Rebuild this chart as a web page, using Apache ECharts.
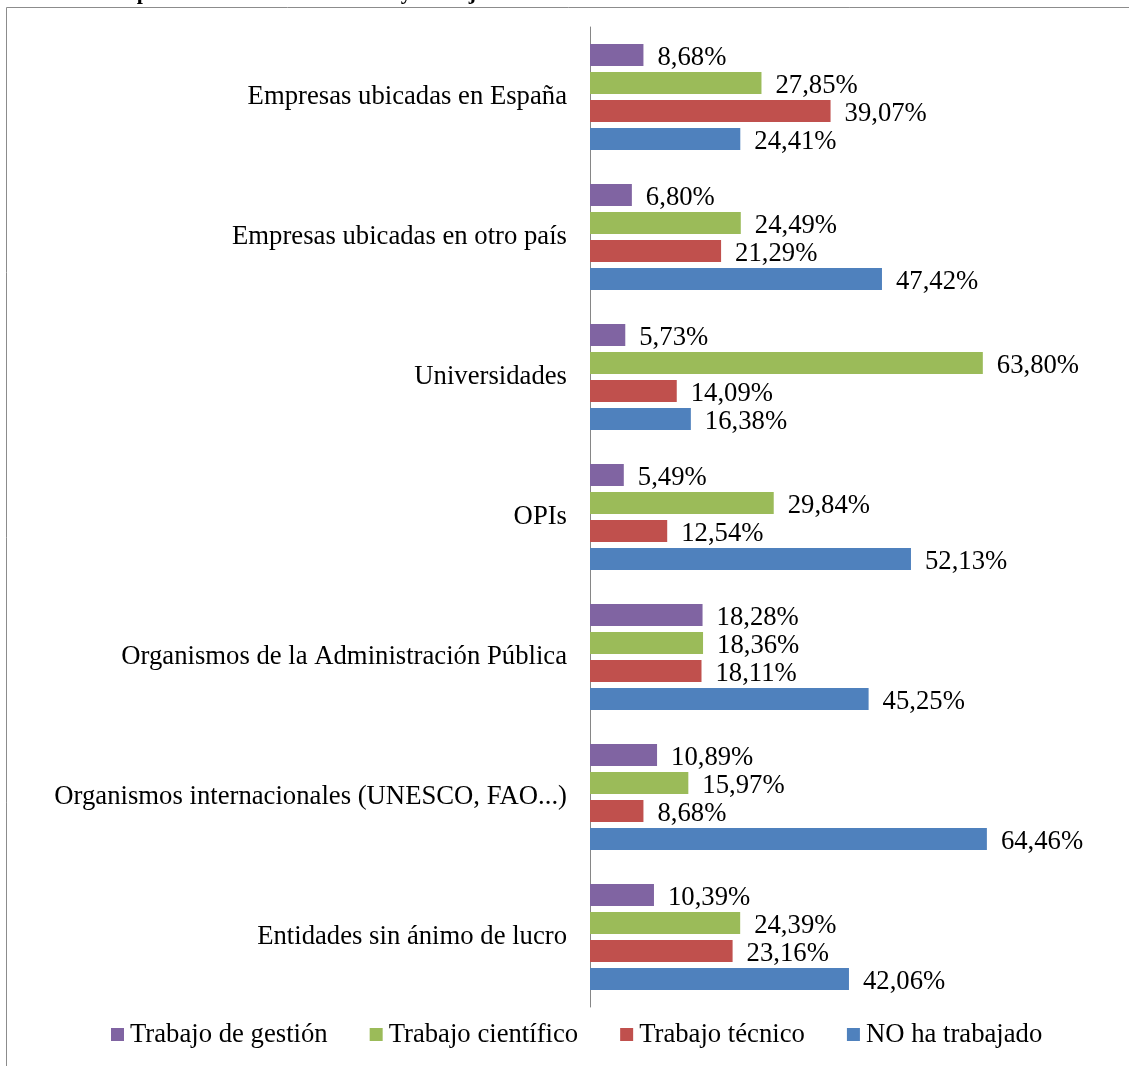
<!DOCTYPE html>
<html>
<head>
<meta charset="utf-8">
<script src="https://cdn.jsdelivr.net/npm/echarts@6/dist/echarts.min.js"></script>
<style>
  html, body { margin: 0; padding: 0; background: #fff; }
  #chart { width: 1129px; height: 1066px; }
</style>
</head>
<body>
<div id="chart"></div>
<script>
const categories = [
  "Empresas ubicadas en España",
  "Empresas ubicadas en otro país",
  "Universidades",
  "OPIs",
  "Organismos de la Administración Pública",
  "Organismos internacionales (UNESCO, FAO...)",
  "Entidades sin ánimo de lucro"
];
const seriesNames = ["Trabajo de gestión", "Trabajo científico", "Trabajo técnico", "NO ha trabajado"];
const gestion    = [8.68, 6.80, 5.73, 5.49, 18.28, 10.89, 10.39];
const cientifico = [27.85, 24.49, 63.80, 29.84, 18.36, 15.97, 24.39];
const tecnico    = [39.07, 21.29, 14.09, 12.54, 18.11, 8.68, 23.16];
const noTrabajo  = [24.41, 47.42, 16.38, 52.13, 45.25, 64.46, 42.06];
const colors = ["#8064A2", "#9BBB59", "#C0504D", "#4F81BD"];

const FONT = "'Liberation Serif', 'Times New Roman', serif";
const FS = 26.7;

const chart = echarts.init(document.getElementById("chart"));

function makeSeries(name, data, color) {
  return {
    name: name,
    type: "bar",
    data: data,
    barWidth: 22,
    barGap: "27%",
    itemStyle: { color: color },
    label: {
      show: true,
      position: "right",
      distance: 14,
      offset: [0, 3],
      fontFamily: FONT,
      fontSize: FS,
      color: "#000",
      formatter: p => p.value.toFixed(2).replace(".", ",") + "%"
    }
  };
}

chart.setOption({
  animation: false,
  color: colors,
  textStyle: { fontFamily: FONT },
  graphic: [
    {
      type: "rect",
      shape: { x: 6.5, y: 7.5, width: 1300, height: 1300 },
      style: { fill: "none", stroke: "#8c8c8c", lineWidth: 1 }
    },
    {
      type: "text",
      x: 4,
      y: -7,
      style: {
        text: "Gráfico 14: Tipo de entidad colaboradora y trabajo de colaboración",
        font: "bold 22px " + FONT,
        fill: "#000",
        verticalAlign: "middle"
      }
    }
  ],
  grid: { left: 590, top: 27, width: 431, height: 980 },
  legend: {
    data: seriesNames,
    top: 1016,
    left: 106,
    icon: "rect",
    itemWidth: 13,
    itemHeight: 13,
    itemGap: 42,
    textStyle: { fontFamily: FONT, fontSize: FS, color: "#000", padding: [0, 0, 0, 1] }
  },
  xAxis: {
    type: "value",
    min: 0,
    max: 70,
    show: false,
    splitLine: { show: false }
  },
  yAxis: {
    type: "category",
    data: categories,
    inverse: true,
    axisLine: { lineStyle: { color: "#868686", width: 1 } },
    axisTick: { show: false },
    axisLabel: { fontFamily: FONT, fontSize: FS, color: "#000", margin: 23 }
  },
  series: [
    makeSeries(seriesNames[0], gestion, colors[0]),
    makeSeries(seriesNames[1], cientifico, colors[1]),
    makeSeries(seriesNames[2], tecnico, colors[2]),
    makeSeries(seriesNames[3], noTrabajo, colors[3])
  ]
});
</script>
</body>
</html>
